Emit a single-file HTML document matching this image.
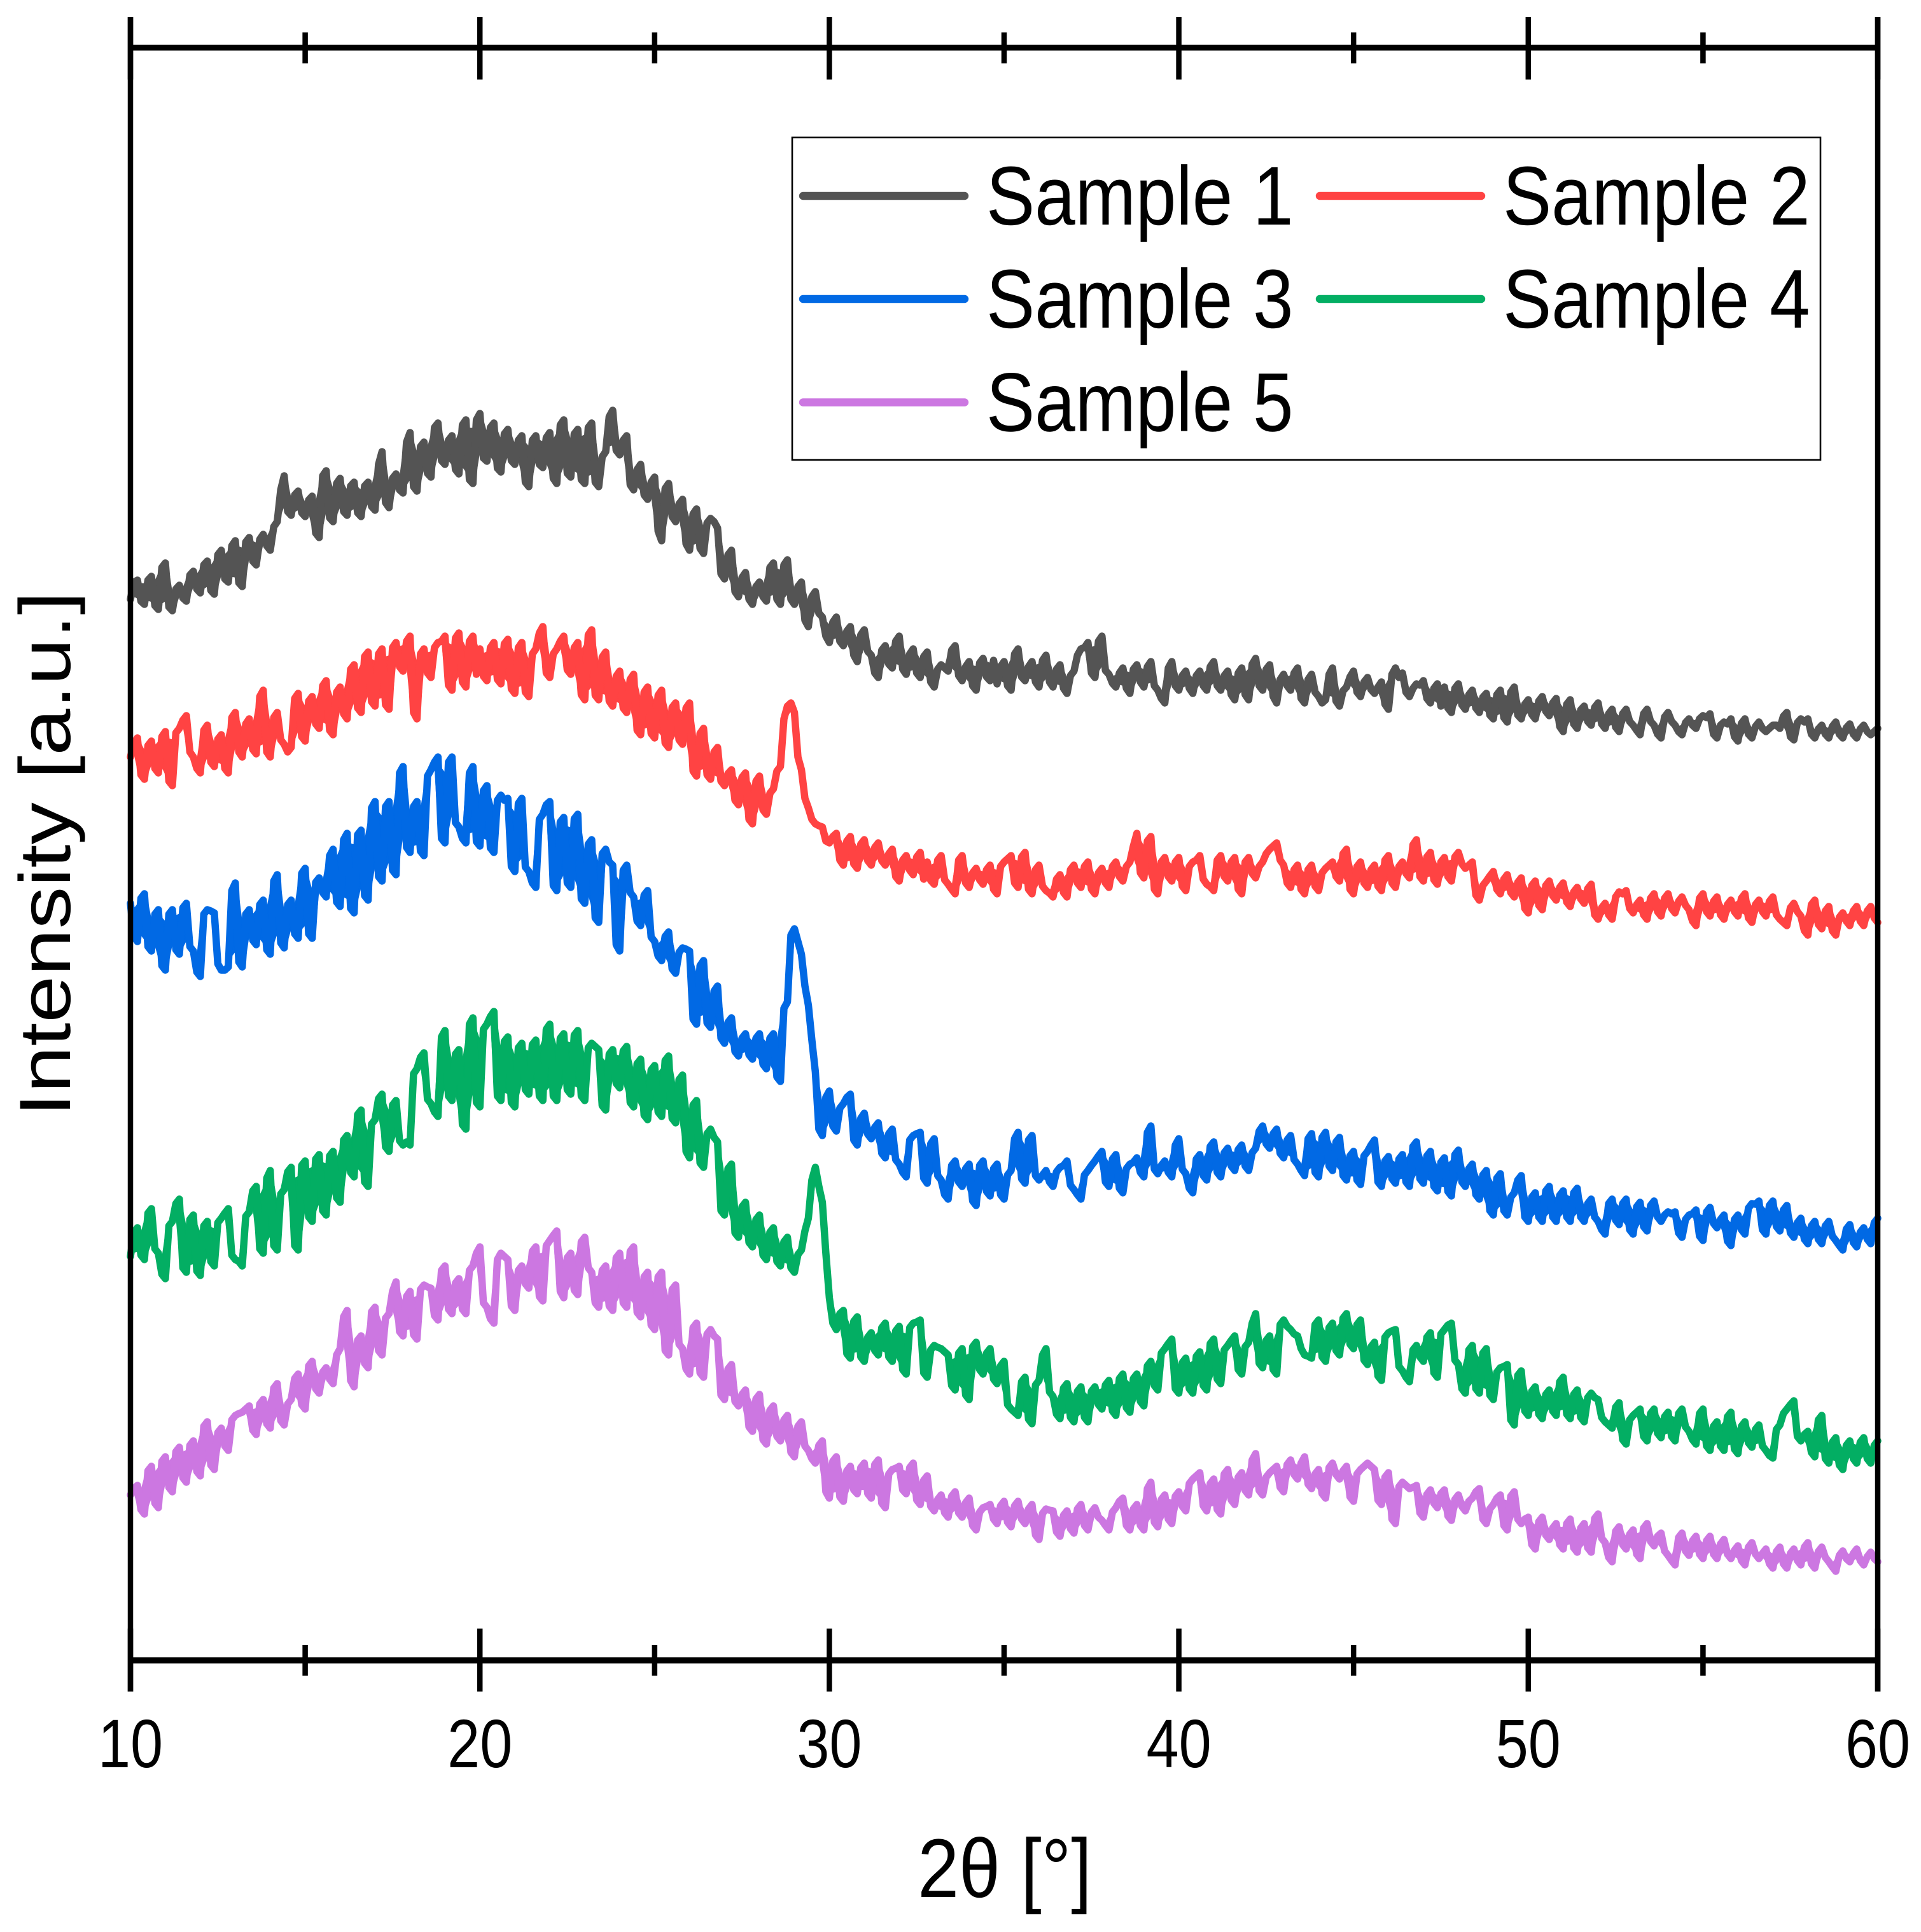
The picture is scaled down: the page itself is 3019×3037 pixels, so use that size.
<!DOCTYPE html>
<html lang="en">
<head>
<meta charset="utf-8">
<title>XRD patterns of five samples</title>
<style>
html,body{margin:0;padding:0;background:#fff;}
svg{display:block;}
text{font-family:"Liberation Sans","DejaVu Sans",sans-serif;fill:#000;}
</style>
</head>
<body>
<svg id="chart" xmlns="http://www.w3.org/2000/svg" width="3019" height="3037" viewBox="0 0 3019 3037">
  <rect x="0" y="0" width="3019" height="3037" fill="#fff"/>
  <g id="series"></g>
  <g id="axes"></g>
  <text font-size="131" text-anchor="middle" transform="translate(1579,2982) scale(.89,1)">2θ [°]</text>
  <text font-size="131" transform="translate(110,1755) rotate(-90) scale(1.012,.87)">Intensity [a.u.]</text>
  <g>
    <rect x="1245" y="216" width="1616" height="507" fill="#fff" stroke="#000" stroke-width="2.6"/>
    <g>
      <line x1="1262" y1="308" x2="1516" y2="308" stroke="#545454" stroke-width="12.4" stroke-linecap="round"/>
      <text font-size="131" transform="translate(1550,353) scale(.872,1)">Sample 1</text>
    </g>
    <g>
      <line x1="2074" y1="308" x2="2328" y2="308" stroke="#FF4343" stroke-width="12.4" stroke-linecap="round"/>
      <text font-size="131" transform="translate(2362,353) scale(.872,1)">Sample 2</text>
    </g>
    <g>
      <line x1="1262" y1="470" x2="1516" y2="470" stroke="#0169E4" stroke-width="12.4" stroke-linecap="round"/>
      <text font-size="131" transform="translate(1550,515) scale(.872,1)">Sample 3</text>
    </g>
    <g>
      <line x1="2074" y1="470" x2="2328" y2="470" stroke="#03AE63" stroke-width="12.4" stroke-linecap="round"/>
      <text font-size="131" transform="translate(2362,515) scale(.872,1)">Sample 4</text>
    </g>
    <g>
      <line x1="1262" y1="632.5" x2="1516" y2="632.5" stroke="#CC77E1" stroke-width="12.4" stroke-linecap="round"/>
      <text font-size="131" transform="translate(1550,677.5) scale(.872,1)">Sample 5</text>
    </g>
  </g>
</svg>
<script>
const twoThetaStart = 10;
const twoThetaStep = 0.2;
const majorTicks = [10, 20, 30, 40, 50, 60];
const minorTicks = [15, 25, 35, 45, 55];
const tickLabels = ["10", "20", "30", "40", "50", "60"];

const sample1 = [
1668,1698,1660,1704,1652,1725,1650,1690,1665,1712,
1678,1728,1676,1745,1695,1760,1688,1765,1722,1770,
1745,1790,1862,1800,1838,1798,1830,1765,1870,1790,
1858,1800,1852,1798,1852,1808,1900,1812,1865,1835,
1930,1838,1915,1860,1945,1880,1925,1865,1950,1850,
1960,1885,1945,1868,1935,1880,1925,1845,1925,1875,
1930,1850,1950,1860,1935,1850,1945,1845,1900,1965,
1895,1925,1840,1880,1825,1860,1760,1850,1790,1825,
1745,1810,1740,1795,
1780,1700,1745,1672,1710,1660,1695,1665,1725,1660,
1730,1660,1695,1625,1680,1640,1600,1640,1595,1625,
1570,1620,1580,1545,1595,1560,1610,1550,1590,1545,
1585,1530,1565,1555,1595,1540,1570,1525,1575,1540,
1535,1570,1525,1590,1540,1570,1530,1580,1530,1565,
1520,1555,1590,1600,1545,1610,1550,1530,1560,1520,
1565,1530,1570,1525,1505,1570,1525,1555,1520,1555,
1525,1570,1525,1555,1510,1560,1510,1575,1525,1565,
1505,1550,1525,1560,
1505,1550,1515,1510,1560,1500,1530,1555,1515,1545,
1520,1538,1495,1560,1552,1515,1535,1540,1505,1535,
1530,1490,1535,1495,1525,1490,1520,1480,1525,1475,
1530,1480,1510,1480,1515,1485,1512,1460,1510,1465,
1500,1470,1505,1465,1495,1460,1495,1470,1455,1495,
1470,1450,1490,1470,1455,1480,1465,1485,1488,1450,
1475,1480,1445,1480,1450,1475,1460,1470,1465,1490,
1447,1480,1480,1450,1470,1450,1475,1450,1472,1450,
1470,1455,1465
];
const sample1Between = [
1695,1665,1698,1658,1718,1656,1684,1670,1706,1684,
1722,1682,1738,1700,1752,1694,1758,1728,1762,1752,
1782,1840,1806,1832,1804,1824,1772,1862,1796,1850,
1806,1846,1804,1846,1814,1880,1820,1858,1840,1915,
1845,1908,1866,1938,1886,1918,1872,1942,1856,1950,
1890,1938,1874,1928,1886,1918,1852,1918,1880,1922,
1858,1942,1866,1928,1856,1938,1852,1892,1955,1902,
1918,1848,1872,1832,1852,1775,1842,1798,1818,1755,
1802,1748,1788,1790,
1708,1738,1680,1702,1668,1688,1672,1718,1668,1722,
1668,1688,1635,1672,1646,1610,1632,1602,1618,1580,
1612,1586,1552,1588,1566,1602,1558,1582,1552,1578,
1538,1558,1560,1588,1548,1562,1532,1568,1546,1572,
1562,1532,1582,1546,1562,1538,1572,1538,1558,1528,
1548,1580,1592,1552,1602,1556,1536,1552,1528,1558,
1538,1562,1532,1512,1560,1532,1548,1528,1548,1532,
1562,1532,1548,1518,1552,1518,1566,1532,1558,1515,
1542,1532,1552,1512,
1542,1522,1505,1550,1508,1524,1546,1522,1538,1526,
1530,1503,1550,1545,1522,1528,1533,1512,1528,1500,
1497,1528,1502,1518,1497,1514,1486,1518,1482,1522,
1486,1503,1487,1508,1492,1505,1468,1503,1472,1494,
1476,1498,1472,1488,1467,1488,1476,1462,1488,1476,
1456,1483,1476,1460,1474,1470,1480,1482,1456,1470,
1472,1452,1473,1456,1468,1465,1465,1470,1484,1452,
1474,1475,1456,1464,1456,1468,1456,1466,1456,1464,
1460,1460
];

const sample2 = [
1420,1450,1385,1445,1395,1460,1375,1465,1485,1420,
1395,1470,1405,1455,1395,1490,1420,1480,1425,1525,
1420,1490,1440,1435,1520,1445,1515,1465,1540,1455,
1530,1480,1565,1490,1585,1500,1590,1495,1600,1555,
1610,1480,1590,1545,1600,1610,1525,1615,1530,1610,
1590,1540,1600,1535,1605,1520,1600,1515,1590,1625,
1545,1590,1610,1550,1600,1510,1620,1510,1585,1500,
1555,1490,1550,1455,1530,1450,1525,1435,1505,1440,
1505,1390,1465,1385,
1435,1375,1400,1345,1395,1315,1390,1330,1370,1405,
1500,1490,1400,1340,1315,1310,1285,1300,1250,1295,
1245,1290,1250,1285,1250,1275,1225,1265,1235,1270,
1255,1220,1265,1220,1205,1265,1215,1245,1220,1250,
1205,1255,1265,1215,1270,1205,1250,1210,1200,1235,
1200,1250,1215,1255,1205,1245,1215,1255,1225,1255,
1300,1230,1295,1205,1262,1225,1262,1210,1255,1265,
1220,1210,1265,1225,1262,1205,1262,1230,1255,1275,
1285,1250,1215,1250,
1205,1250,1210,1245,1255,1225,1275,1205,1255,1215,
1250,1210,1265,1215,1255,1230,1290,1225,1270,1220,
1262,1225,1270,1245,1255,1195,1225,1240,1205,1235,
1200,1230,1175,1225,1180,1225,1195,1222,1185,1215,
1190,1220,1165,1190,1165,1208,1210,1175,1195,1165,
1205,1170,1205,1175,1200,1180,1155,1205,1170,1200,
1165,1195,1170,1205,1160,1195,1170,1200,1165,1155,
1190,1170,1140,1195,1150,1185,1140,1175,1155,1185,
1155,1185,1160
];
const sample2Between = [
1442,1392,1438,1402,1452,1382,1458,1478,1428,1402,
1462,1412,1448,1402,1482,1428,1472,1432,1515,1428,
1482,1447,1428,1512,1452,1508,1472,1532,1462,1522,
1488,1558,1497,1578,1507,1582,1502,1592,1562,1602,
1490,1582,1552,1592,1602,1533,1607,1538,1602,1550,
1547,1592,1542,1598,1527,1592,1522,1582,1615,1552,
1582,1602,1557,1592,1518,1612,1517,1577,1508,1547,
1497,1542,1462,1522,1457,1517,1442,1498,1447,1497,
1398,1457,1392,1428,
1382,1394,1352,1388,1322,1382,1337,1363,1398,1480,
1505,1420,1355,1322,1312,1288,1295,1258,1288,1252,
1283,1257,1278,1257,1268,1232,1258,1242,1263,1228,
1226,1258,1227,1212,1258,1222,1238,1227,1243,1212,
1248,1260,1222,1263,1212,1243,1217,1206,1228,1207,
1243,1222,1248,1212,1238,1222,1248,1232,1248,1280,
1238,1288,1212,1255,1232,1255,1217,1248,1258,1228,
1216,1258,1232,1255,1212,1255,1237,1248,1268,1280,
1258,1222,1243,1212,
1243,1217,1238,1250,1232,1268,1212,1248,1222,1243,
1217,1258,1222,1248,1237,1282,1232,1263,1227,1255,
1232,1263,1252,1250,1203,1218,1233,1212,1228,1207,
1223,1182,1218,1187,1218,1202,1215,1192,1208,1197,
1213,1172,1183,1172,1200,1205,1182,1188,1172,1198,
1177,1198,1182,1193,1187,1162,1198,1177,1193,1172,
1188,1177,1198,1167,1188,1177,1193,1172,1160,1183,
1177,1147,1188,1157,1178,1147,1168,1162,1178,1162,
1178,1167
];

const sample3 = [
1190,1130,1205,1115,1180,1085,1180,1110,1190,1115,
1075,1180,1175,1085,1090,1222,1090,1180,1125,1195,
1110,1235,1120,1195,1135,1245,1135,1230,1200,1275,
1185,1300,1175,1305,1195,1350,1225,1350,1235,1405,
1270,1350,1265,1400,1420,1285,1420,1310,1285,1405,
1280,1375,1270,1360,1355,1240,1355,1240,1215,1330,
1350,1210,1325,1215,1330,1190,1290,1160,1275,1250,
1115,1250,1200,1155,1210,1130,1100,1145,1080,1120,
1115,1000,1100,995,
1060,970,1010,950,985,945,985,930,985,910,
1035,1150,1110,1030,925,825,895,832,875,890,
810,860,820,845,790,835,780,760,825,830,
750,820,755,725,785,745,780,715,785,730,
780,725,770,830,750,825,755,770,745,775,
785,740,725,770,785,800,745,795,735,780,
790,760,840,765,785,760,820,765,735,795,
755,815,760,805,770,810,770,805,840,805,
835,790,825,780,
762,828,760,830,770,822,755,800,748,800,
818,745,792,750,795,745,815,750,800,738,
790,730,802,745,780,725,770,700,765,700,
735,762,690,735,690,745,690,738,690,742,
690,725,690,670,725,685,725,670,720,675,
722,690,705,705,665,700,708,660,712,680,
700,652,700,670,718,722,670,722,675,715,
665,695,655,690,655,690,660,645,685,650,
680,655,695
];
const sample3Between = [
1138,1198,1122,1173,1092,1173,1117,1183,1122,1082,
1173,1178,1095,1085,1210,1098,1173,1132,1188,1117,
1225,1128,1188,1142,1237,1142,1223,1207,1265,1192,
1290,1182,1298,1202,1340,1232,1342,1242,1395,1278,
1342,1272,1390,1412,1292,1412,1317,1292,1395,1287,
1367,1277,1352,1352,1248,1347,1247,1222,1322,1345,
1218,1318,1222,1323,1197,1283,1167,1268,1255,1125,
1242,1207,1162,1203,1137,1107,1138,1087,1113,1118,
1008,1092,1002,1052,
978,1003,957,978,952,978,937,978,917,1025,
1140,1130,1060,975,835,885,840,868,885,818,
852,827,838,797,828,787,767,818,828,758,
812,762,732,778,752,773,722,778,737,773,
732,763,820,757,818,762,763,752,768,778,
747,732,763,778,793,752,788,742,773,783,
767,830,772,778,767,810,772,742,788,762,
808,767,798,777,803,777,798,832,812,828,
797,818,787,770,
820,767,822,777,815,762,793,755,793,810,
752,785,757,788,752,808,757,793,745,783,
737,795,752,773,732,763,707,758,707,728,
755,697,728,697,738,697,731,697,735,697,
718,697,677,718,692,718,677,713,682,715,
697,700,702,672,693,702,667,705,687,693,
659,693,677,711,717,677,715,682,708,672,
688,662,683,662,683,667,652,678,657,673,
662,688
];

const sample4 = [
635,680,630,710,640,600,690,725,610,700,
605,690,620,695,710,630,620,705,745,640,
770,645,740,775,645,785,690,795,700,800,
720,825,760,865,745,850,890,800,880,810,
810,930,955,875,855,990,880,960,835,1010,
870,1000,1020,880,980,870,970,890,975,880,
1000,880,985,890,990,880,970,960,865,960,
900,965,870,945,850,935,855,950,845,920,
790,880,775,835,
815,700,780,665,720,650,700,630,680,620,
665,610,645,695,775,720,570,520,550,475,
540,470,515,480,530,470,525,450,530,535,
445,495,490,480,425,490,410,500,450,490,
435,470,395,385,445,372,440,490,415,380,
435,375,430,375,430,395,440,385,450,390,
450,400,470,425,490,505,420,475,420,485,
425,505,435,495,510,450,500,545,460,510,
450,535,520,510,
480,475,535,470,530,480,545,490,535,465,
500,440,515,520,455,438,495,470,515,445,
520,530,465,420,495,420,490,410,460,465,
370,455,385,430,380,425,385,445,380,425,
375,420,410,375,365,405,340,385,395,345,
395,350,390,345,395,360,340,395,330,375,
330,390,325,375,335,370,330,318,370,395,
408,345,360,320,385,310,350,300,345,310,
350,310,345
];
const sample4Between = [
673,637,703,647,607,683,718,617,693,612,
683,627,688,703,637,627,698,738,647,758,
652,733,768,652,778,697,788,707,793,727,
818,767,858,752,843,883,807,873,817,815,
922,948,882,862,980,887,953,842,1000,877,
992,1012,887,973,877,963,897,968,887,992,
887,978,897,983,887,963,965,872,953,907,
958,877,938,857,928,862,943,852,913,800,
873,782,828,822,
707,773,672,713,657,693,637,673,627,658,
617,638,675,755,745,640,530,545,482,533,
477,508,487,523,477,518,457,523,532,452,
488,492,485,432,483,417,493,457,483,442,
463,402,390,438,379,433,480,422,387,428,
382,423,382,423,402,433,392,443,397,443,
407,463,432,483,498,427,468,427,478,432,
498,442,488,503,457,493,530,467,503,457,
528,525,513,490,
478,528,477,523,487,538,497,528,472,493,
447,508,518,462,445,488,477,508,452,513,
527,472,427,488,427,483,417,453,462,378,
448,392,423,387,418,392,438,387,418,382,
413,413,382,370,398,347,378,390,352,388,
357,383,352,388,367,347,388,337,368,337,
383,332,368,342,363,337,322,363,388,402,
352,355,327,378,317,343,307,338,317,343,
317,338
];

const sample5 = [
260,275,230,305,240,320,265,335,280,345,
290,375,300,365,330,385,390,400,355,410,
365,435,370,410,450,395,470,420,460,435,
490,550,430,510,460,555,480,545,595,510,
580,505,590,585,535,620,545,600,545,620,
650,555,530,640,630,550,620,585,650,565,
660,675,570,640,575,665,610,555,620,550,
640,555,650,540,610,520,610,480,590,490,
450,530,445,520,
505,410,465,400,425,360,418,340,400,345,
385,320,375,330,310,345,255,320,250,305,
262,310,255,315,240,300,305,262,310,245,
290,235,260,225,265,225,255,205,240,245,
215,250,210,250,215,245,190,238,235,195,
235,200,245,205,240,220,205,240,255,205,
245,205,280,210,260,215,265,235,285,295,
235,285,230,300,245,295,260,325,260,295,
305,265,315,285,
320,270,300,255,310,285,305,250,300,310,
300,245,295,215,280,270,275,225,268,240,
268,220,260,235,255,270,215,245,260,205,
265,215,225,175,225,190,215,175,222,170,
215,170,230,185,155,210,175,205,160,215,
180,200,165,150,200,165,195,160,195,160,
190,160,180,150,185,160,175,145,178,145,
175,150,185,145,178,155,140,172,155,175,
150,170,155
];
const sample5Between = [
270,237,298,247,313,272,328,287,338,297,
368,307,358,337,378,388,395,362,403,372,
428,377,403,443,402,463,427,453,442,480,
540,440,503,467,548,487,538,580,517,572,
512,583,587,542,613,552,593,552,613,640,
562,537,630,635,557,613,592,643,572,652,
668,580,633,582,658,617,562,613,557,633,
562,643,547,603,527,603,487,583,497,458,
523,452,513,510,
417,458,407,418,367,411,347,393,352,378,
327,368,337,317,338,265,313,257,298,268,
303,262,308,247,293,302,268,303,252,283,
242,253,232,258,232,248,212,233,242,222,
243,217,243,222,238,197,231,236,202,228,
207,238,212,233,225,212,233,250,212,238,
212,270,217,253,222,258,242,278,290,243,
278,237,293,252,288,267,315,267,288,300,
272,308,292,310,
277,293,262,303,292,298,257,293,305,305,
252,288,222,273,275,272,232,261,247,262,
227,253,242,250,265,222,238,255,212,258,
222,222,182,218,197,208,182,215,177,208,
177,223,192,162,203,182,198,167,208,187,
195,172,157,193,172,188,167,188,167,183,
167,173,157,178,167,168,152,171,152,168,
157,178,152,171,162,147,165,160,168,157,
163,160
];

const sampleColors = ["#545454", "#FF4343", "#0169E4", "#03AE63", "#CC77E1"];
const sampleValues = [sample1, sample2, sample3, sample4, sample5];
const sampleBetweenValues = [sample1Between, sample2Between, sample3Between, sample4Between, sample5Between];

const SVG_NS = "http://www.w3.org/2000/svg";
const plotLeft = 205, plotRight = 2951, plotTop = 75, plotBottom = 2610;
const xMin = 10, xMax = 60, yMin = 0, yMax = 2535;

function xScale(v) {
  return plotLeft + (v - xMin) / (xMax - xMin) * (plotRight - plotLeft);
}
function yScale(v) {
  return plotBottom - (v - yMin) / (yMax - yMin) * (plotBottom - plotTop);
}

const seriesGroup = document.getElementById("series");
sampleValues.forEach(function (values, s) {
  const between = sampleBetweenValues[s];
  const angles = [];
  const merged = [];
  values.forEach(function (v, i) {
    const angle = twoThetaStart + i * twoThetaStep;
    angles.push(angle);
    merged.push(v);
    if (i < between.length) {
      angles.push(angle + twoThetaStep / 2);
      merged.push(between[i]);
    }
  });

  let d = "";
  merged.forEach(function (v, k) {
    d += (k ? "L" : "M") + xScale(angles[k]).toFixed(1) + " " + yScale(v).toFixed(1);
  });

  let upper = "";
  let lower = "";
  merged.forEach(function (v, k) {
    const win = merged.slice(Math.max(0, k - 1), k + 2);
    const hi = Math.max.apply(null, win);
    const lo = Math.min.apply(null, win);
    const mid = (hi + lo) / 2;
    const half = (hi - lo) / 2 * 0.75;
    const x = xScale(angles[k]).toFixed(1);
    upper += (k ? "L" : "M") + x + " " + yScale(mid + half).toFixed(1);
    lower = "L" + x + " " + yScale(mid - half).toFixed(1) + lower;
  });

  const band = document.createElementNS(SVG_NS, "path");
  band.setAttribute("d", upper + lower + "Z");
  band.setAttribute("fill", sampleColors[s]);
  band.setAttribute("stroke", "none");
  
  
  seriesGroup.appendChild(band);

  const path = document.createElementNS(SVG_NS, "path");
  path.setAttribute("d", d);
  path.setAttribute("fill", "none");
  path.setAttribute("stroke", sampleColors[s]);
  path.setAttribute("stroke-width", "11.5");
  path.setAttribute("stroke-linejoin", "round");
  path.setAttribute("stroke-linecap", "round");
  
  
  seriesGroup.appendChild(path);
});

const axes = document.getElementById("axes");
function addLine(x1, y1, x2, y2, width, name) {
  const l = document.createElementNS(SVG_NS, "line");
  l.setAttribute("x1", x1);
  l.setAttribute("y1", y1);
  l.setAttribute("x2", x2);
  l.setAttribute("y2", y2);
  l.setAttribute("stroke", "#000");
  l.setAttribute("stroke-width", width);
  
  
  axes.appendChild(l);
}
addLine(plotLeft, plotTop, plotRight, plotTop, 9, "top-axis-line");
addLine(plotLeft, plotBottom, plotRight, plotBottom, 9.6, "bottom-axis-line");
addLine(plotLeft, 27, plotLeft, 2659, 8.5, "left-axis-line");
addLine(plotRight, 27, plotRight, 2659, 8.5, "right-axis-line");

majorTicks.forEach(function (t, i) {
  const x = xScale(t);
  addLine(x, 27, x, 125, 8.5, "top-major-tick-" + t);
  addLine(x, 2560, x, 2659, 8.5, "bottom-major-tick-" + t);
  const label = document.createElementNS(SVG_NS, "text");
  label.setAttribute("font-size", "108");
  label.setAttribute("text-anchor", "middle");
  label.setAttribute("transform", "translate(" + x + ",2778) scale(.85,1)");
  
  
  label.textContent = tickLabels[i];
  axes.appendChild(label);
});
minorTicks.forEach(function (t) {
  const x = xScale(t);
  addLine(x, 51, x, 99.5, 8.5, "top-minor-tick-" + t);
  addLine(x, 2586, x, 2634, 8.5, "bottom-minor-tick-" + t);
});
</script>
</body>
</html>
